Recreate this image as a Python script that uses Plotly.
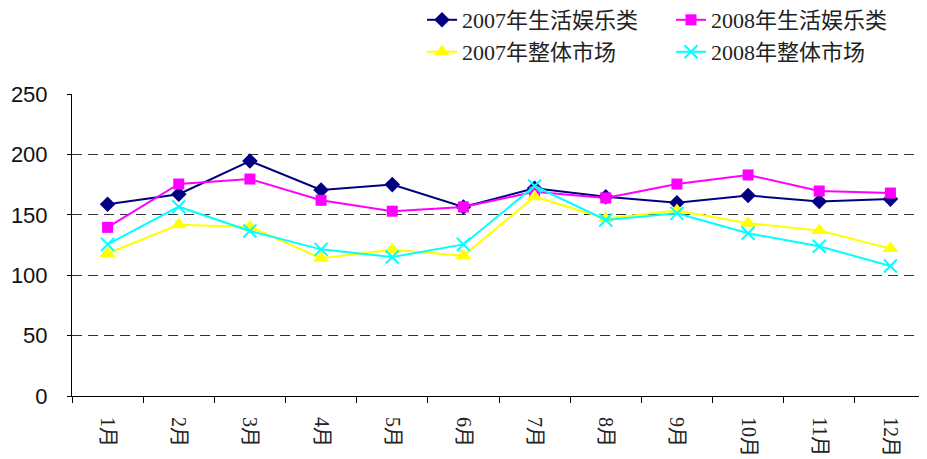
import plotly.graph_objects as go

months = ["1月", "2月", "3月", "4月", "5月", "6月", "7月", "8月", "9月", "10月", "11月", "12月"]

life_2007 = [158.7, 167, 194.5, 170.5, 175, 156.5, 172, 165, 160, 166, 161, 163]
life_2008 = [139.6, 175.5, 179.6, 162, 153, 156.5, 169, 164, 175.5, 183, 169.7, 168]
market_2007 = [118, 141.8, 140, 114, 121, 116, 165, 147, 153.5, 143, 137, 122]
market_2008 = [125.5, 156.7, 136.6, 121.4, 115, 125.5, 173.8, 145.7, 151.2, 134.7, 124, 107.6]

names = ["2007年生活娱乐类", "2008年生活娱乐类", "2007年整体市场", "2008年整体市场"]

W, H = 919, 451  # page body has an 8px margin

fig = go.Figure()
fig.add_trace(go.Scatter(x=months, y=life_2007, name=names[0], mode="lines+markers",
                         line=dict(color="#000080", width=2), legend="legend",
                         marker=dict(symbol="diamond", size=12, color="#000080")))
fig.add_trace(go.Scatter(x=months, y=life_2008, name=names[1], mode="lines+markers",
                         line=dict(color="#FF00FF", width=2), legend="legend2",
                         marker=dict(symbol="square", size=11, color="#FF00FF")))
fig.add_trace(go.Scatter(x=months, y=market_2007, name=names[2], mode="lines+markers",
                         line=dict(color="#FFFF00", width=2), legend="legend3",
                         marker=dict(symbol="triangle-up", size=14, color="#FFFF00")))
fig.add_trace(go.Scatter(x=months, y=market_2008, name=names[3], mode="lines+markers",
                         line=dict(color="#00FFFF", width=2), legend="legend4",
                         marker=dict(symbol="x-thin", size=13, color="#00FFFF",
                                     line=dict(color="#00FFFF", width=2))))

legend_font = dict(family="Liberation Serif, Noto Sans CJK SC", size=22, color="#222")


def leg(xpx, ypx):
    return dict(orientation="h", xref="container", x=xpx / W, xanchor="left",
                yref="container", y=1 - ypx / H, yanchor="middle",
                font=legend_font, bgcolor="rgba(0,0,0,0)")


fig.update_layout(
    width=W, height=H,
    margin=dict(l=64, r=1, t=86, b=63, autoexpand=False),
    plot_bgcolor="white", paper_bgcolor="white",
    showlegend=True,
    legend=leg(414, 12),
    legend2=leg(663, 12),
    legend3=leg(414, 44),
    legend4=leg(663, 44),
    xaxis=dict(type="category", range=[-0.5, 11.5], showline=True, linecolor="black", linewidth=1,
               ticks="outside", tickson="boundaries", ticklen=6, tickcolor="black",
               tickangle=90, showgrid=False, automargin=False, ticklabelstandoff=16,
               tickfont=dict(family="Liberation Serif, Noto Sans CJK SC", size=20, color="#222")),
    yaxis=dict(range=[0, 250], tickvals=[0, 50, 100, 150, 200, 250], showline=True,
               linecolor="black", linewidth=1, showgrid=True, gridcolor="#333",
               griddash="10px,6px", gridwidth=1, zeroline=False, ticks="outside",
               ticklen=4, tickcolor="black", automargin=False,
               ticklabelstandoff=15,
               tickfont=dict(family="Liberation Sans", size=22, color="#111")),
)

fig.write_html("out.html")
